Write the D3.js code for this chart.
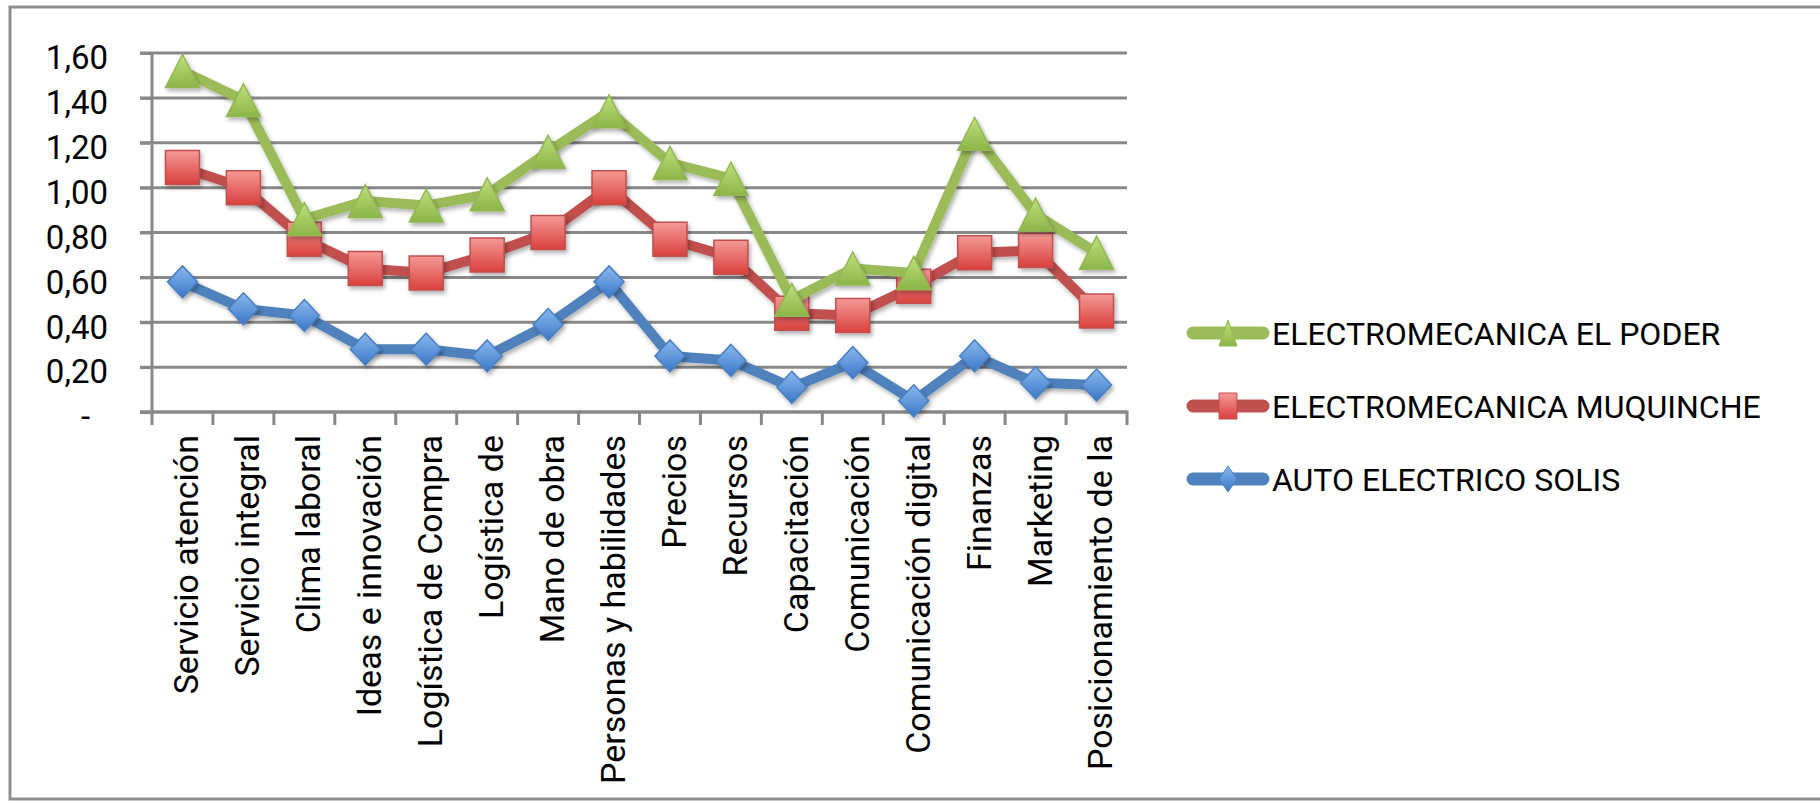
<!DOCTYPE html>
<html>
<head>
<meta charset="utf-8">
<script src="https://cdn.jsdelivr.net/npm/d3@7"></script>
<style>
    body { margin: 0; background: #fff; }
    svg { display: block; }
    text { font-family: Roboto, "Noto Sans", sans-serif; fill: #000; }
</style>
</head>
<body>
<svg id="chart" width="1820" height="803"></svg>
<script>

// ========== DATA ==========

const categories = [
    "Servicio atención", "Servicio integral", "Clima laboral", "Ideas e innovación",
    "Logística de Compra", "Logística de", "Mano de obra", "Personas y habilidades",
    "Precios", "Recursos", "Capacitación", "Comunicación", "Comunicación digital",
    "Finanzas", "Marketing", "Posicionamiento de la"
];

const seriesNames = ["ELECTROMECANICA EL PODER", "ELECTROMECANICA MUQUINCHE", "AUTO ELECTRICO SOLIS"];

const elPoder   = [1.52, 1.39, 0.86, 0.94, 0.92, 0.97, 1.16, 1.34, 1.11, 1.04, 0.50, 0.64, 0.62, 1.24, 0.88, 0.71];
const muquinche = [1.09, 1.00, 0.77, 0.64, 0.62, 0.70, 0.80, 1.00, 0.77, 0.69, 0.44, 0.43, 0.56, 0.71, 0.72, 0.45];
const solis     = [0.58, 0.46, 0.43, 0.28, 0.28, 0.25, 0.39, 0.58, 0.25, 0.23, 0.11, 0.22, 0.05, 0.25, 0.13, 0.12];

const yTicks = [0, 0.2, 0.4, 0.6, 0.8, 1.0, 1.2, 1.4, 1.6];


// ========== MAIN CODE ==========

const svg = d3.select("#chart");

const plot = { left: 152, right: 1127, top: 53, bottom: 412 };
const gridColor = "#888888";

const x = d3.scaleBand()
    .domain(categories)
    .range([plot.left, plot.right]);

const y = d3.scaleLinear()
    .domain([0, 1.6])
    .range([plot.bottom, plot.top]);

const cx = (i) => x(categories[i]) + x.bandwidth() / 2;

// series styles, drawn bottom to top
const series = [
    { name: seriesNames[2], values: solis, line: "#4F81BD", marker: "diamond", top: "#8ab8ef", bottom: "#3a78c8", edge: "#4a7fc0", id: "gBlue" },
    { name: seriesNames[1], values: muquinche, line: "#C0504D", marker: "square", top: "#f49a97", bottom: "#d9403d", edge: "#c0504d", id: "gRed" },
    { name: seriesNames[0], values: elPoder, line: "#9BBB59", marker: "triangle", top: "#bfe07e", bottom: "#8cb548", edge: "#93b852", id: "gGreen" }
];

// outer frame
svg.append("rect")
    .attr("x", 0).attr("y", 0)
    .attr("width", 1820).attr("height", 803)
    .attr("fill", "#fff");

svg.append("rect")
    .attr("x", 10).attr("y", 7)
    .attr("width", 1840).attr("height", 792)
    .attr("fill", "none")
    .attr("stroke", "#8f8f8f")
    .attr("stroke-width", 3);

const defs = svg.append("defs");

series.forEach(s => {
    const grad = defs.append("linearGradient")
        .attr("id", s.id)
        .attr("x1", "0%").attr("y1", "0%")
        .attr("x2", "0%").attr("y2", "100%");
    grad.append("stop").attr("offset", "0%").attr("stop-color", s.top);
    grad.append("stop").attr("offset", "100%").attr("stop-color", s.bottom);
});

const shadow = defs.append("filter")
    .attr("id", "shadow")
    .attr("x", "-30%").attr("y", "-30%")
    .attr("width", "170%").attr("height", "170%");
shadow.append("feDropShadow")
    .attr("dx", 2).attr("dy", 3)
    .attr("stdDeviation", 2)
    .attr("flood-color", "#000")
    .attr("flood-opacity", 0.3);

// gridlines
svg.append("g")
    .attr("class", "grid")
    .selectAll("line")
    .data(yTicks)
    .enter().append("line")
    .attr("x1", plot.left - 12)
    .attr("x2", plot.right)
    .attr("y1", d => y(d))
    .attr("y2", d => y(d))
    .attr("stroke", gridColor)
    .attr("stroke-width", 3);

// y axis
const yAxis = d3.axisLeft(y)
    .tickValues(yTicks)
    .tickSize(12)
    .tickPadding(32)
    .tickFormat(d => d === 0 ? "-" : d3.format(".2f")(d).replace(".", ","));

const yG = svg.append("g")
    .attr("transform", "translate(" + plot.left + ",0)")
    .call(yAxis);

yG.select(".domain").remove();
yG.selectAll(".tick line").attr("stroke", gridColor).attr("stroke-width", 3);
yG.selectAll(".tick text")
    .attr("dy", "0.48em")
    .style("font-size", "33px")
    .style("font-family", "Roboto, sans-serif")
    .attr("fill", "#000")
    .attr("x", d => d === 0 ? -62 : -44);

svg.append("line")
    .attr("x1", plot.left).attr("x2", plot.left)
    .attr("y1", plot.top).attr("y2", plot.bottom)
    .attr("stroke", gridColor)
    .attr("stroke-width", 3);

// x axis + boundary ticks
const boundaries = categories.map(c => x(c)).concat([plot.right]);

const xG = svg.append("g").attr("class", "x-axis");

xG.append("line")
    .attr("x1", plot.left - 12).attr("x2", plot.right + 1.5)
    .attr("y1", plot.bottom).attr("y2", plot.bottom)
    .attr("stroke", gridColor)
    .attr("stroke-width", 3);

xG.selectAll("line.tk")
    .data(boundaries)
    .enter().append("line")
    .attr("class", "tk")
    .attr("x1", d => d).attr("x2", d => d)
    .attr("y1", plot.bottom).attr("y2", plot.bottom + 13)
    .attr("stroke", gridColor)
    .attr("stroke-width", 3);

xG.selectAll("text")
    .data(categories)
    .enter().append("text")
    .attr("transform", (d, i) => "translate(" + (cx(i) + 4) + "," + (plot.bottom + 23) + ") rotate(-90)")
    .attr("text-anchor", "end")
    .attr("dy", "0.35em")
    .style("font-size", "34px")
    .text(d => d);

// marker shapes, w x h bounding box centred on the point
function markerPath(type, w, h) {
    const a = w / 2, b = h / 2;
    switch (type) {
        case "triangle": return "M0," + (-b) + "L" + a + "," + b + "L" + (-a) + "," + b + "Z";
        case "square": return "M" + (-a) + "," + (-b) + "H" + a + "V" + b + "H" + (-a) + "Z";
        case "diamond": return "M0," + (-b) + "L" + a + ",0L0," + b + "L" + (-a) + ",0Z";
    }
}

const markerSize = {
    triangle: [34, 33],
    square: [34, 34],
    diamond: [30, 32]
};

const line = d3.line()
    .x((d, i) => cx(i))
    .y(d => y(d));

series.forEach(s => {
    const g = svg.append("g").attr("class", "series");

    g.append("path")
        .datum(s.values)
        .attr("d", line)
        .attr("fill", "none")
        .attr("stroke", s.line)
        .attr("stroke-width", 10)
        .attr("stroke-linejoin", "round")
        .attr("filter", "url(#shadow)");

    const sz = markerSize[s.marker];
    g.selectAll("path.mk")
        .data(s.values)
        .enter().append("path")
        .attr("class", "mk")
        .attr("transform", (d, i) => "translate(" + cx(i) + "," + y(d) + ")")
        .attr("d", markerPath(s.marker, sz[0], sz[1]))
        .attr("fill", "url(#" + s.id + ")")
        .attr("stroke", s.edge)
        .attr("stroke-width", 1.5)
        .attr("filter", "url(#shadow)");
});

// legend
const legendRows = [series[2], series[1], series[0]];
const legend = svg.append("g").attr("class", "legend");

legendRows.forEach((s, i) => {
    const ly = 333 + i * 73;
    legend.append("line")
        .attr("x1", 1193).attr("x2", 1263)
        .attr("y1", ly).attr("y2", ly)
        .attr("stroke", s.line)
        .attr("stroke-width", 13)
        .attr("stroke-linecap", "round");
    legend.append("path")
        .attr("transform", "translate(1228," + ly + ")")
        .attr("d", markerPath(s.marker, 18, 26))
        .attr("fill", "url(#" + s.id + ")")
        .attr("stroke", s.edge)
        .attr("stroke-width", 1);
    legend.append("text")
        .attr("x", 1272)
        .attr("y", ly)
        .attr("dy", "0.36em")
        .style("font-size", "32px")
        .text(s.name);
});

</script>
</body>
</html>
